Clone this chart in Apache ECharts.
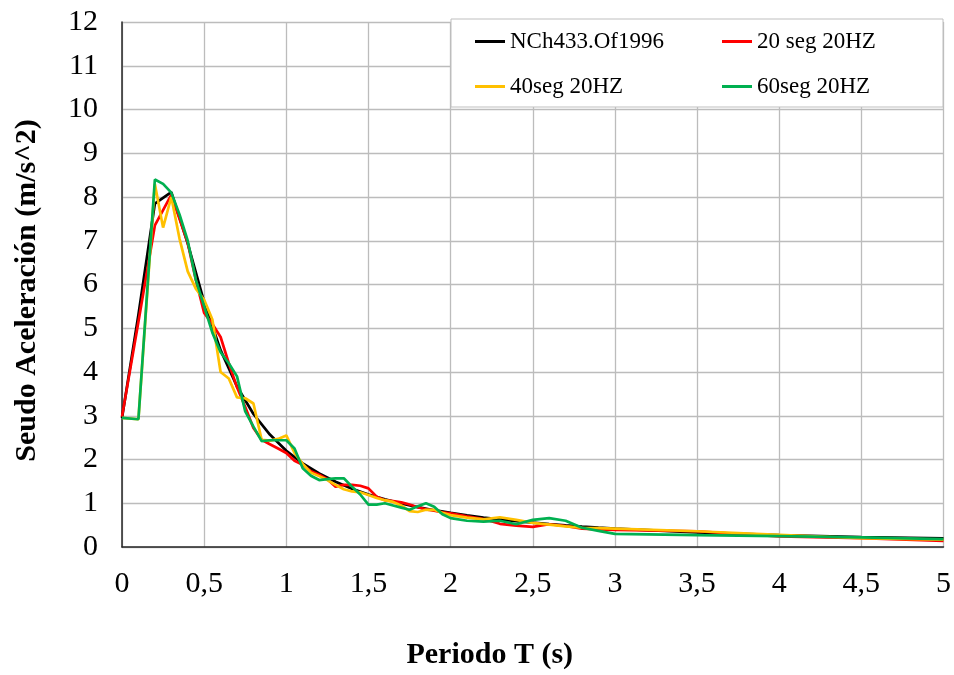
<!DOCTYPE html>
<html>
<head>
<meta charset="utf-8">
<script src="https://cdn.jsdelivr.net/npm/echarts@6/dist/echarts.min.js"></script>
<style>
html,body{margin:0;padding:0;background:#fff;}
#chart{width:954px;height:675px;}
</style>
</head>
<body>
<div id="chart"></div>
<script>
// NCh433 design spectrum
var periodsNCh = [0,0.1,0.2,0.3,0.4,0.5,0.6,0.7,0.8,0.9,1.0,1.1,1.2,1.3,1.4,1.5,1.6,1.7,1.8,1.9,2.0,2.1,2.2,2.3,2.4,2.5,2.6,2.7,2.8,2.9,3.0,3.5,4.0,4.5,5.0];
var valuesNCh = [2.95,5.31,7.85,8.11,6.94,5.60,4.50,3.67,3.04,2.57,2.20,1.91,1.68,1.49,1.33,1.20,1.09,0.995,0.913,0.841,0.779,0.723,0.674,0.631,0.591,0.556,0.524,0.495,0.469,0.444,0.422,0.335,0.274,0.229,0.196];

// periods of the measured spectra
var periodsRec = [0,0.1,
  0.2,0.25,0.3,0.35,0.4,0.45,0.5,0.55,0.6,0.65,0.7,0.75,0.8,0.85,0.9,0.95,1.0,
  1.05,1.1,1.15,1.2,1.25,1.3,1.35,1.4,1.45,1.5,1.55,1.6,1.65,1.7,1.75,1.8,1.85,1.9,1.95,2.0,
  2.1,2.2,2.3,2.4,2.5,2.6,2.7,2.8,2.9,3.0,
  3.5,4.0,4.5,5.0];
var values20 = [2.98,5.15,
  7.35,7.7,8.05,7.5,6.95,6.1,5.35,5.1,4.8,4.2,3.65,3.2,2.72,2.45,2.35,2.25,2.15,
  1.97,1.88,1.73,1.65,1.55,1.38,1.42,1.42,1.40,1.34,1.15,1.07,1.05,1.02,0.97,0.91,0.86,0.83,0.79,0.77,
  0.70,0.64,0.53,0.49,0.46,0.52,0.48,0.42,0.40,0.39,
  0.36,0.24,0.20,0.14];
var values40 = [2.95,2.92,
  8.3,7.3,8.0,7.05,6.3,5.9,5.65,5.2,4.0,3.85,3.42,3.4,3.28,2.45,2.43,2.47,2.55,
  2.15,1.9,1.7,1.62,1.53,1.42,1.32,1.27,1.25,1.19,1.12,1.07,1.03,0.95,0.82,0.8,0.85,0.85,0.78,0.73,
  0.67,0.63,0.68,0.62,0.55,0.51,0.47,0.44,0.43,0.42,
  0.36,0.28,0.20,0.17];
var values60 = [2.95,2.92,
  8.4,8.3,8.1,7.6,7.0,6.1,5.5,4.9,4.45,4.2,3.9,3.1,2.75,2.42,2.44,2.44,2.44,
  2.25,1.8,1.63,1.53,1.55,1.57,1.57,1.38,1.2,0.97,0.97,1.0,0.95,0.9,0.85,0.93,1.0,0.92,0.75,0.66,
  0.6,0.58,0.6,0.52,0.62,0.66,0.6,0.44,0.37,0.3,
  0.27,0.25,0.22,0.18];

var seriesNames = ['NCh433.Of1996','20 seg 20HZ','40seg 20HZ','60seg 20HZ'];
var seriesColors = ['#000000','#ff0000','#ffc000','#00b050'];
var yTicks = [0,1,2,3,4,5,6,7,8,9,10,11,12];
var xTicks = [0,0.5,1,1.5,2,2.5,3,3.5,4,4.5,5];

function pairs(xs, ys){ return xs.map(function(x,i){ return [x, ys[i]]; }); }

var FONT = 'Liberation Serif';
var chart = echarts.init(document.getElementById('chart'), null, {renderer:'canvas'});

function mkSeries(i, data){
  return {
    name: seriesNames[i], type:'line', data:data, symbol:'none', smooth:false,
    lineStyle:{color:seriesColors[i], width:2.7}, itemStyle:{color:seriesColors[i]},
    emphasis:{disabled:true}, animation:false, z:2+i
  };
}
function mkLegend(i, left, top){
  return {
    data:[seriesNames[i]], left:left, top:top, padding:0, icon:'rect',
    itemWidth:30, itemHeight:3, itemGap:0, z:20, selectedMode:false,
    textStyle:{fontFamily:FONT, fontSize:23, color:'#000'}
  };
}

chart.setOption({
  animation:false,
  backgroundColor:'#fff',
  grid:{left:122, right:9, top:22, bottom:126, containLabel:false},
  xAxis:{
    type:'value', min:0, max:5, interval:0.5,
    axisLine:{show:true, lineStyle:{color:'#262626', width:1.5}},
    axisTick:{show:false},
    splitLine:{show:true, lineStyle:{color:'#bcbcbc', width:1.3}},
    axisLabel:{fontFamily:FONT, fontSize:30, color:'#000', margin:22,
      formatter:function(v){ return String(v).replace('.', ','); }},
    name:'Periodo T (s)', nameLocation:'middle', nameGap:93,
    nameTextStyle:{fontFamily:FONT, fontSize:30, fontWeight:'bold', color:'#000', padding:[0,86,0,0]}
  },
  yAxis:{
    type:'value', min:0, max:12, interval:1,
    axisLine:{show:true, lineStyle:{color:'#262626', width:1.5}},
    axisTick:{show:false},
    splitLine:{show:true, lineStyle:{color:'#bcbcbc', width:1.3}},
    axisLabel:{fontFamily:FONT, fontSize:30, color:'#000', margin:24},
    name:'Seudo Aceleración (m/s^2)', nameLocation:'middle', nameGap:80,
    nameTextStyle:{fontFamily:FONT, fontSize:30, fontWeight:'bold', color:'#000', padding:[0,12,0,0]}
  },
  graphic:[{
    type:'rect', z:15, silent:true,
    shape:{x:451, y:19, width:492, height:88},
    style:{fill:'#ffffff', stroke:'#bfbfbf', lineWidth:1}
  }],
  legend:[
    mkLegend(0, 475, 30), mkLegend(1, 722, 30),
    mkLegend(2, 475, 75), mkLegend(3, 722, 75)
  ],
  series:[
    mkSeries(0, pairs(periodsNCh, valuesNCh)),
    mkSeries(1, pairs(periodsRec, values20)),
    mkSeries(2, pairs(periodsRec, values40)),
    mkSeries(3, pairs(periodsRec, values60))
  ]
});
</script>
</body>
</html>
